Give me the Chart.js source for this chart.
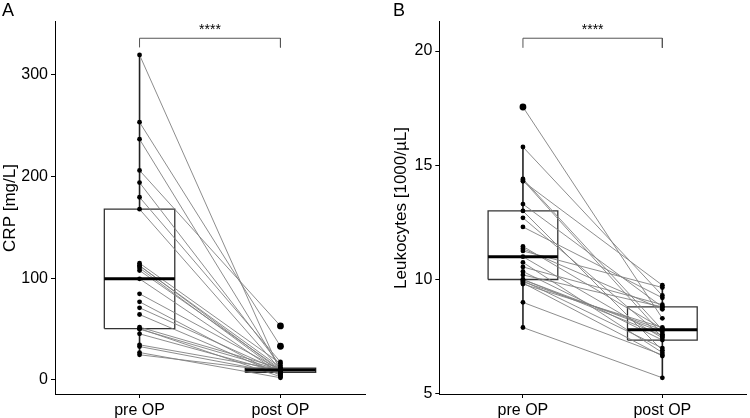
<!DOCTYPE html>
<html>
<head>
<meta charset="utf-8">
<script src="https://cdn.jsdelivr.net/npm/chart.js@4.4.0/dist/chart.umd.min.js"></script>
<style>
  body { margin: 0; background: #fff; }
  .panel { position: absolute; top: 0; width: 375px; height: 418px; }
</style>
</head>
<body>
<div class="panel" style="left:0"><canvas id="chartA" width="375" height="418"></canvas></div>
<div class="panel" style="left:375px"><canvas id="chartB" width="375" height="418"></canvas></div>
<script>
// groups on the x axis
const groups = ['pre OP', 'post OP'];

// CRP, paired per patient (pre -> post)
const crpPre  = [319.6, 253.4, 236.7, 206, 194, 179.6, 167.8, 114.7, 112.4, 112, 110, 107.5, 99.3, 84.6, 76.7, 70.8, 64.2, 51.8, 50.4, 49.8, 45.2, 34.4, 32.7, 26.8, 24.6];
const crpPost = [8, 33, 11, 53, 14, 17.5, 10, 16, 9, 12, 7.5, 10.5, 6, 9.8, 4, 8.5, 5, 11.5, 3, 9.5, 7.2, 10, 6.5, 2, 8];

// Leukocytes, paired per patient
const leukoPre  = [17.55, 15.8, 14.4, 14.35, 14.3, 13.3, 13.0, 12.7, 12.3, 11.45, 11.35, 11.25, 11.0, 10.75, 10.55, 10.35, 10.2, 10.0, 10.0, 9.95, 9.9, 9.85, 9.8, 9.0, 7.9];
const leukoPost = [8.3, 9.3, 7.8, 7.6, 9.75, 8.8, 6.9, 7.5, 9.2, 7.85, 8.7, 9.65, 7.45, 6.8, 8.9, 7.35, 8.8, 7.7, 7.55, 7.0, 7.8, 6.65, 7.9, 6.7, 5.7];

// box stats: [lower whisker, Q1, median, Q3, upper whisker]
const crpBox = [[24.6, 50.4, 99.3, 167.8, 319.6], [2, 7.2, 9.5, 11.5, 17.5]];
const crpOutliers = [[], [33, 53]];
const leukoBox = [[7.9, 10, 11, 13, 15.8], [5.7, 7.35, 7.8, 8.8, 9.75]];
const leukoOutliers = [[17.55], []];

// tick labels
const crpTicks = [0, 100, 200, 300];
const leukoTicks = [5, 10, 15, 20];

Chart.defaults.font.family = '"Liberation Sans", Arial, Helvetica, sans-serif';
Chart.defaults.color = '#000';

function seg(points, color, width, order) {
  return {
    type: 'line',
    data: points,
    borderColor: color,
    borderWidth: width,
    pointRadius: 0,
    tension: 0,
    fill: false,
    order: order
  };
}

function buildDatasets(pre, post, box, outliers, bracket) {
  const ds = [];
  box.forEach((b, i) => {
    const x = i + 1;
    ds.push(seg([{x: x - 0.25, y: b[1]}, {x: x + 0.25, y: b[1]}, {x: x + 0.25, y: b[3]},
                 {x: x - 0.25, y: b[3]}, {x: x - 0.25, y: b[1]}], '#333', 1.3, 5));
    ds.push(seg([{x: x, y: b[0]}, {x: x, y: b[1]}], '#222', 1.6, 5));
    ds.push(seg([{x: x, y: b[3]}, {x: x, y: b[4]}], '#222', 1.6, 5));
    ds.push(seg([{x: x - 0.25, y: b[2]}, {x: x + 0.25, y: b[2]}], '#000', 3, 1));
    if (outliers[i].length) {
      ds.push({
        type: 'scatter',
        data: outliers[i].map(v => ({x: x, y: v})),
        pointRadius: 3.4,
        backgroundColor: '#000',
        borderWidth: 0,
        order: 0
      });
    }
  });
  // paired lines
  pre.forEach((v, i) => {
    ds.push(seg([{x: 1, y: v}, {x: 2, y: post[i]}], '#808080', 0.9, 3));
  });
  // points
  ds.push({
    type: 'scatter',
    data: pre.map(v => ({x: 1, y: v})).concat(post.map(v => ({x: 2, y: v}))),
    pointRadius: 2.4,
    backgroundColor: '#000',
    borderWidth: 0,
    order: 0
  });
  // significance bracket
  ds.push(seg([{x: 1, y: bracket[0]}, {x: 1, y: bracket[1]}, {x: 2, y: bracket[1]}, {x: 2, y: bracket[0]}], '#555', 1, 4));
  return ds;
}

const sigLabel = {
  id: 'sigLabel',
  afterDatasetsDraw(chart, args, opts) {
    const {ctx, scales: {x, y}} = chart;
    const px = x.getPixelForValue(1.5);
    const py = y.getPixelForValue(opts.y);
    ctx.save();
    ctx.fillStyle = '#000';
    ctx.font = '14px "Liberation Sans", Arial, sans-serif';
    ctx.textAlign = 'center';
    ctx.textBaseline = 'alphabetic';
    ctx.fillText(opts.text, px, py - 4);
    ctx.restore();
  }
};

function makeChart(id, cfg) {
  new Chart(document.getElementById(id), {
    type: 'scatter',
    data: {datasets: buildDatasets(cfg.pre, cfg.post, cfg.box, cfg.outliers, cfg.bracket)},
    plugins: [sigLabel],
    options: {
      responsive: false,
      animation: false,
      events: [],
      layout: {padding: {left: cfg.padLeft, right: cfg.padRight, top: 0, bottom: 0}},
      plugins: {
        legend: {display: false},
        tooltip: {enabled: false},
        title: {
          display: true,
          text: cfg.label,
          align: 'start',
          color: '#000',
          font: {size: 18, weight: 'normal'},
          padding: {top: 0, bottom: 0.4}
        },
        sigLabel: {y: cfg.bracket[1], text: '****'}
      },
      scales: {
        x: {
          type: 'linear',
          min: 0.4,
          max: 2.6,
          afterBuildTicks: s => { s.ticks = [{value: 1}, {value: 2}]; },
          ticks: {
            callback: (v, i) => groups[i],
            font: {size: 16},
            color: '#000',
            padding: 3,
            autoSkip: false,
            maxRotation: 0
          },
          grid: {drawOnChartArea: false, drawTicks: true, tickLength: 4, color: '#000'},
          border: {color: '#000', width: 1},
          afterFit: s => { s.height = 24; }
        },
        y: {
          min: cfg.yMin,
          max: cfg.yMax,
          afterBuildTicks: s => { s.ticks = cfg.ticks.map(v => ({value: v})); },
          ticks: {font: {size: 16}, color: '#000', padding: 3},
          title: {display: true, text: cfg.yTitle, font: {size: 17}, color: '#000', padding: {top: -2, bottom: 0}},
          grid: {drawOnChartArea: false, drawTicks: true, tickLength: 4, color: '#000'},
          border: {color: '#000', width: 1},
          afterFit: s => { s.width = cfg.axisWidth; }
        }
      }
    }
  });
}

makeChart('chartA', {
  label: 'A', pre: crpPre, post: crpPost, box: crpBox, outliers: crpOutliers,
  bracket: [327, 336], ticks: crpTicks, yMin: -14, yMax: 352,
  yTitle: 'CRP [mg/L]', padLeft: 2, padRight: 10, axisWidth: 53
});

makeChart('chartB', {
  label: 'B', pre: leukoPre, post: leukoPost, box: leukoBox, outliers: leukoOutliers,
  bracket: [20.14, 20.56], ticks: leukoTicks, yMin: 4.99, yMax: 21.27,
  yTitle: 'Leukocytes [1000/µL]', padLeft: 18, padRight: 1, axisWidth: 46.3
});
</script>
</body>
</html>
